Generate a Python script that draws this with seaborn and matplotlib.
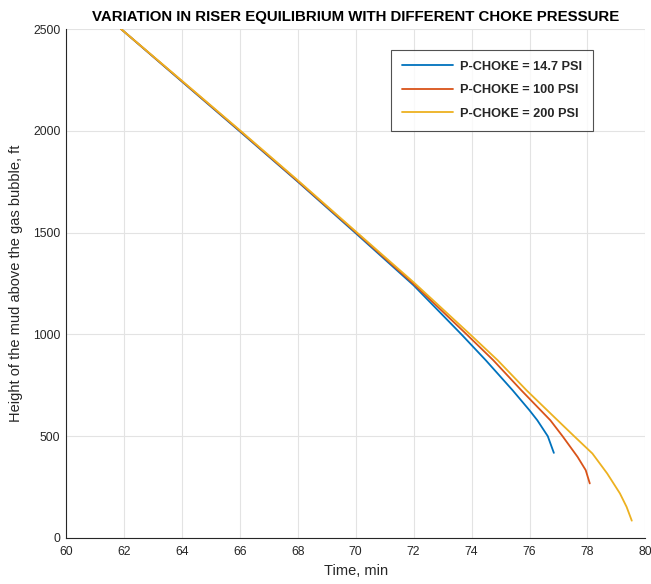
import matplotlib
matplotlib.use("Agg")
import matplotlib.pyplot as plt
import seaborn as sns
import pandas as pd

# --- data ---
labels = ["P-CHOKE = 14.7 PSI", "P-CHOKE = 100 PSI", "P-CHOKE = 200 PSI"]

t_147 = [61.9, 64.0, 66.0, 68.0, 70.0, 72.0, 73.65, 74.49, 75.42, 76.0, 76.27, 76.63, 76.84]
h_147 = [2500, 2242, 1997, 1750, 1497, 1241, 1000, 873, 725, 627, 578, 500, 418]

t_100 = [61.9, 64.0, 66.0, 68.0, 70.0, 72.0, 73.83, 74.75, 75.72, 76.72, 77.14, 77.66, 77.94, 78.08]
h_100 = [2500, 2244, 2000, 1753, 1502, 1248, 1000, 873, 725, 578, 500, 398, 333, 268]

t_200 = [61.9, 64.0, 66.0, 68.0, 70.0, 72.0, 73.95, 74.9, 75.9, 76.97, 77.54, 78.17, 78.68, 79.12, 79.35, 79.53]
h_200 = [2500, 2246, 2003, 1757, 1506, 1256, 1000, 873, 725, 578, 500, 415, 317, 219, 153, 85]

colors = ["#0072BD", "#D95319", "#EDB120"]

frames = []
for lab, t, h in zip(labels, [t_147, t_100, t_200], [h_147, h_100, h_200]):
    frames.append(pd.DataFrame({"Time": t, "Height": h, "Series": lab}))
df = pd.concat(frames, ignore_index=True)

sns.set_theme(style="white")
plt.rcParams["font.family"] = ["Liberation Sans", "DejaVu Sans"]

fig = plt.figure(figsize=(6.51, 5.84), dpi=100)
ax = fig.add_axes([0.1014, 0.0788, 0.890, 0.8715])

sns.lineplot(data=df, x="Time", y="Height", hue="Series", palette=colors,
             sort=False, estimator=None, linewidth=1.3, ax=ax)
for ln in ax.get_lines():
    ln.set_solid_joinstyle("round")

ax.set_xlim(60, 80)
ax.set_ylim(0, 2500)
ax.set_xticks(range(60, 81, 2))
ax.set_yticks(range(0, 2501, 500))
ax.grid(True, color="#e3e3e3", linewidth=0.8)
ax.set_axisbelow(True)

for s in ["top", "right"]:
    ax.spines[s].set_visible(False)
for s in ["left", "bottom"]:
    ax.spines[s].set_color("#262626")
    ax.spines[s].set_linewidth(0.8)

ax.tick_params(axis="both", direction="in", length=4, width=0.8,
               colors="#262626", labelsize=8.8)
ax.tick_params(axis="x", pad=6)
ax.tick_params(axis="y", pad=4)
ax.set_xlabel("Time, min", fontsize=10.5, color="#262626", labelpad=4)
ax.set_ylabel("Height of the mud above the gas bubble, ft", fontsize=10.5,
              color="#262626", labelpad=7)
ax.set_title("VARIATION IN RISER EQUILIBRIUM WITH DIFFERENT CHOKE PRESSURE",
             fontsize=10.8, fontweight="bold", color="black", pad=6)

leg = ax.legend(loc="upper right", bbox_to_anchor=(0.909, 0.959),
                borderaxespad=0, fancybox=False, frameon=True,
                edgecolor="#262626", prop={"weight": "bold", "size": 9.2},
                handlelength=4.0, borderpad=0.85, labelspacing=0.9,
                handletextpad=0.5)
leg.get_frame().set_linewidth(0.8)

fig.savefig("out.png", dpi=100)
